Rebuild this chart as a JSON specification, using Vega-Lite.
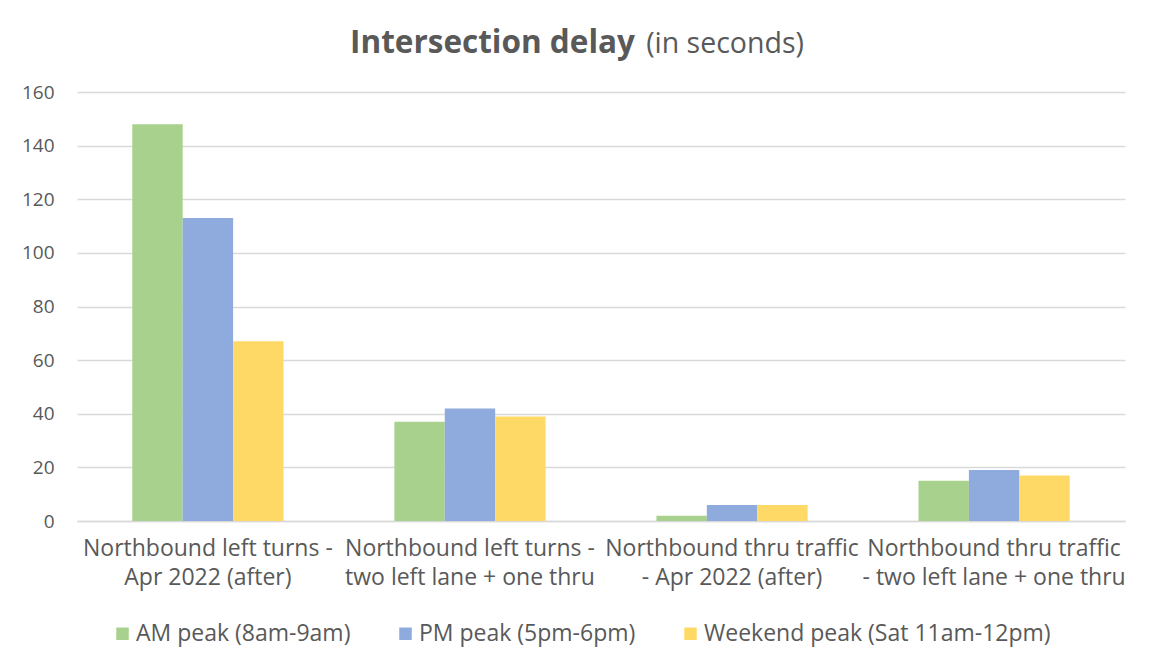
{
  "$schema": "https://vega.github.io/schema/vega-lite/v6.json",
  "width": 1048,
  "height": 429,
  "autosize": {"type": "none"},
  "padding": {"left": 77, "top": 92, "right": 27, "bottom": 150},
  "background": "white",
  "title": {
    "text": "Intersection delay",
    "subtitle": "\u200b\u00a0\u00a0\u00a0\u00a0\u00a0\u00a0\u00a0\u00a0\u00a0\u00a0\u00a0\u00a0\u00a0\u00a0\u00a0\u00a0\u00a0\u00a0\u00a0\u00a0\u00a0\u00a0\u00a0\u00a0\u00a0\u00a0\u00a0\u00a0\u00a0\u00a0\u00a0\u00a0\u00a0\u00a0\u00a0\u00a0\u00a0\u00a0\u00a0\u00a0(in seconds)",
    "anchor": "start",
    "frame": "group",
    "align": "left",
    "dx": 273,
    "offset": 24,
    "font": "Open Sans",
    "fontSize": 31.5,
    "fontWeight": "bold",
    "color": "#595959",
    "subtitleFont": "Open Sans",
    "subtitleFontSize": 28.5,
    "subtitleFontWeight": "normal",
    "subtitleColor": "#595959",
    "subtitlePadding": -29
  },
  "data": {
    "values": [
      {"category": "Northbound left turns -|Apr 2022 (after)", "series": "AM peak (8am-9am)", "delay": 148},
      {"category": "Northbound left turns -|Apr 2022 (after)", "series": "PM peak (5pm-6pm)", "delay": 113},
      {"category": "Northbound left turns -|Apr 2022 (after)", "series": "Weekend peak (Sat 11am-12pm)", "delay": 67},
      {"category": "Northbound left turns -|two left lane + one thru", "series": "AM peak (8am-9am)", "delay": 37},
      {"category": "Northbound left turns -|two left lane + one thru", "series": "PM peak (5pm-6pm)", "delay": 42},
      {"category": "Northbound left turns -|two left lane + one thru", "series": "Weekend peak (Sat 11am-12pm)", "delay": 39},
      {"category": "Northbound thru traffic|- Apr 2022 (after)", "series": "AM peak (8am-9am)", "delay": 2},
      {"category": "Northbound thru traffic|- Apr 2022 (after)", "series": "PM peak (5pm-6pm)", "delay": 6},
      {"category": "Northbound thru traffic|- Apr 2022 (after)", "series": "Weekend peak (Sat 11am-12pm)", "delay": 6},
      {"category": "Northbound thru traffic|- two left lane + one thru", "series": "AM peak (8am-9am)", "delay": 15},
      {"category": "Northbound thru traffic|- two left lane + one thru", "series": "PM peak (5pm-6pm)", "delay": 19},
      {"category": "Northbound thru traffic|- two left lane + one thru", "series": "Weekend peak (Sat 11am-12pm)", "delay": 17}
    ]
  },
  "mark": {"type": "bar"},
  "encoding": {
    "x": {
      "field": "category",
      "type": "nominal",
      "sort": null,
      "title": null,
      "scale": {"paddingInner": 0.423, "paddingOuter": 0.211},
      "axis": {
        "labelExpr": "split(datum.label, '|')",
        "labelAngle": 0,
        "labelFont": "Open Sans",
        "labelFontSize": 23,
        "labelLineHeight": 29,
        "labelColor": "#595959",
        "labelPadding": 16,
        "labelLimit": 400,
        "ticks": false,
        "domainColor": "#D9D9D9",
        "domainWidth": 1.5
      }
    },
    "xOffset": {
      "field": "series",
      "type": "nominal",
      "sort": null,
      "scale": {"paddingInner": 0, "paddingOuter": 0}
    },
    "y": {
      "field": "delay",
      "type": "quantitative",
      "title": null,
      "scale": {"domain": [0, 160], "nice": false},
      "axis": {
        "values": [0, 20, 40, 60, 80, 100, 120, 140, 160],
        "labelFont": "Open Sans",
        "labelFontSize": 19,
        "labelColor": "#595959",
        "labelPadding": 23,
        "ticks": false,
        "domain": false,
        "gridColor": "#D9D9D9",
        "gridWidth": 1.5
      }
    },
    "color": {
      "field": "series",
      "type": "nominal",
      "sort": null,
      "title": null,
      "scale": {
        "domain": ["AM peak (8am-9am)", "PM peak (5pm-6pm)", "Weekend peak (Sat 11am-12pm)"],
        "range": ["#A9D18E", "#8FAADC", "#FFD966"]
      },
      "legend": {
        "orient": "none",
        "legendX": 34,
        "legendY": 530,
        "direction": "horizontal",
        "symbolType": "square",
        "symbolSize": 156,
        "symbolStrokeWidth": 0,
        "labelFont": "Open Sans",
        "labelFontSize": 23,
        "labelColor": "#595959",
        "labelOffset": 2,
        "columnPadding": 43,
        "labelLimit": 500
      }
    }
  },
  "config": {
    "view": {"stroke": null}
  }
}
